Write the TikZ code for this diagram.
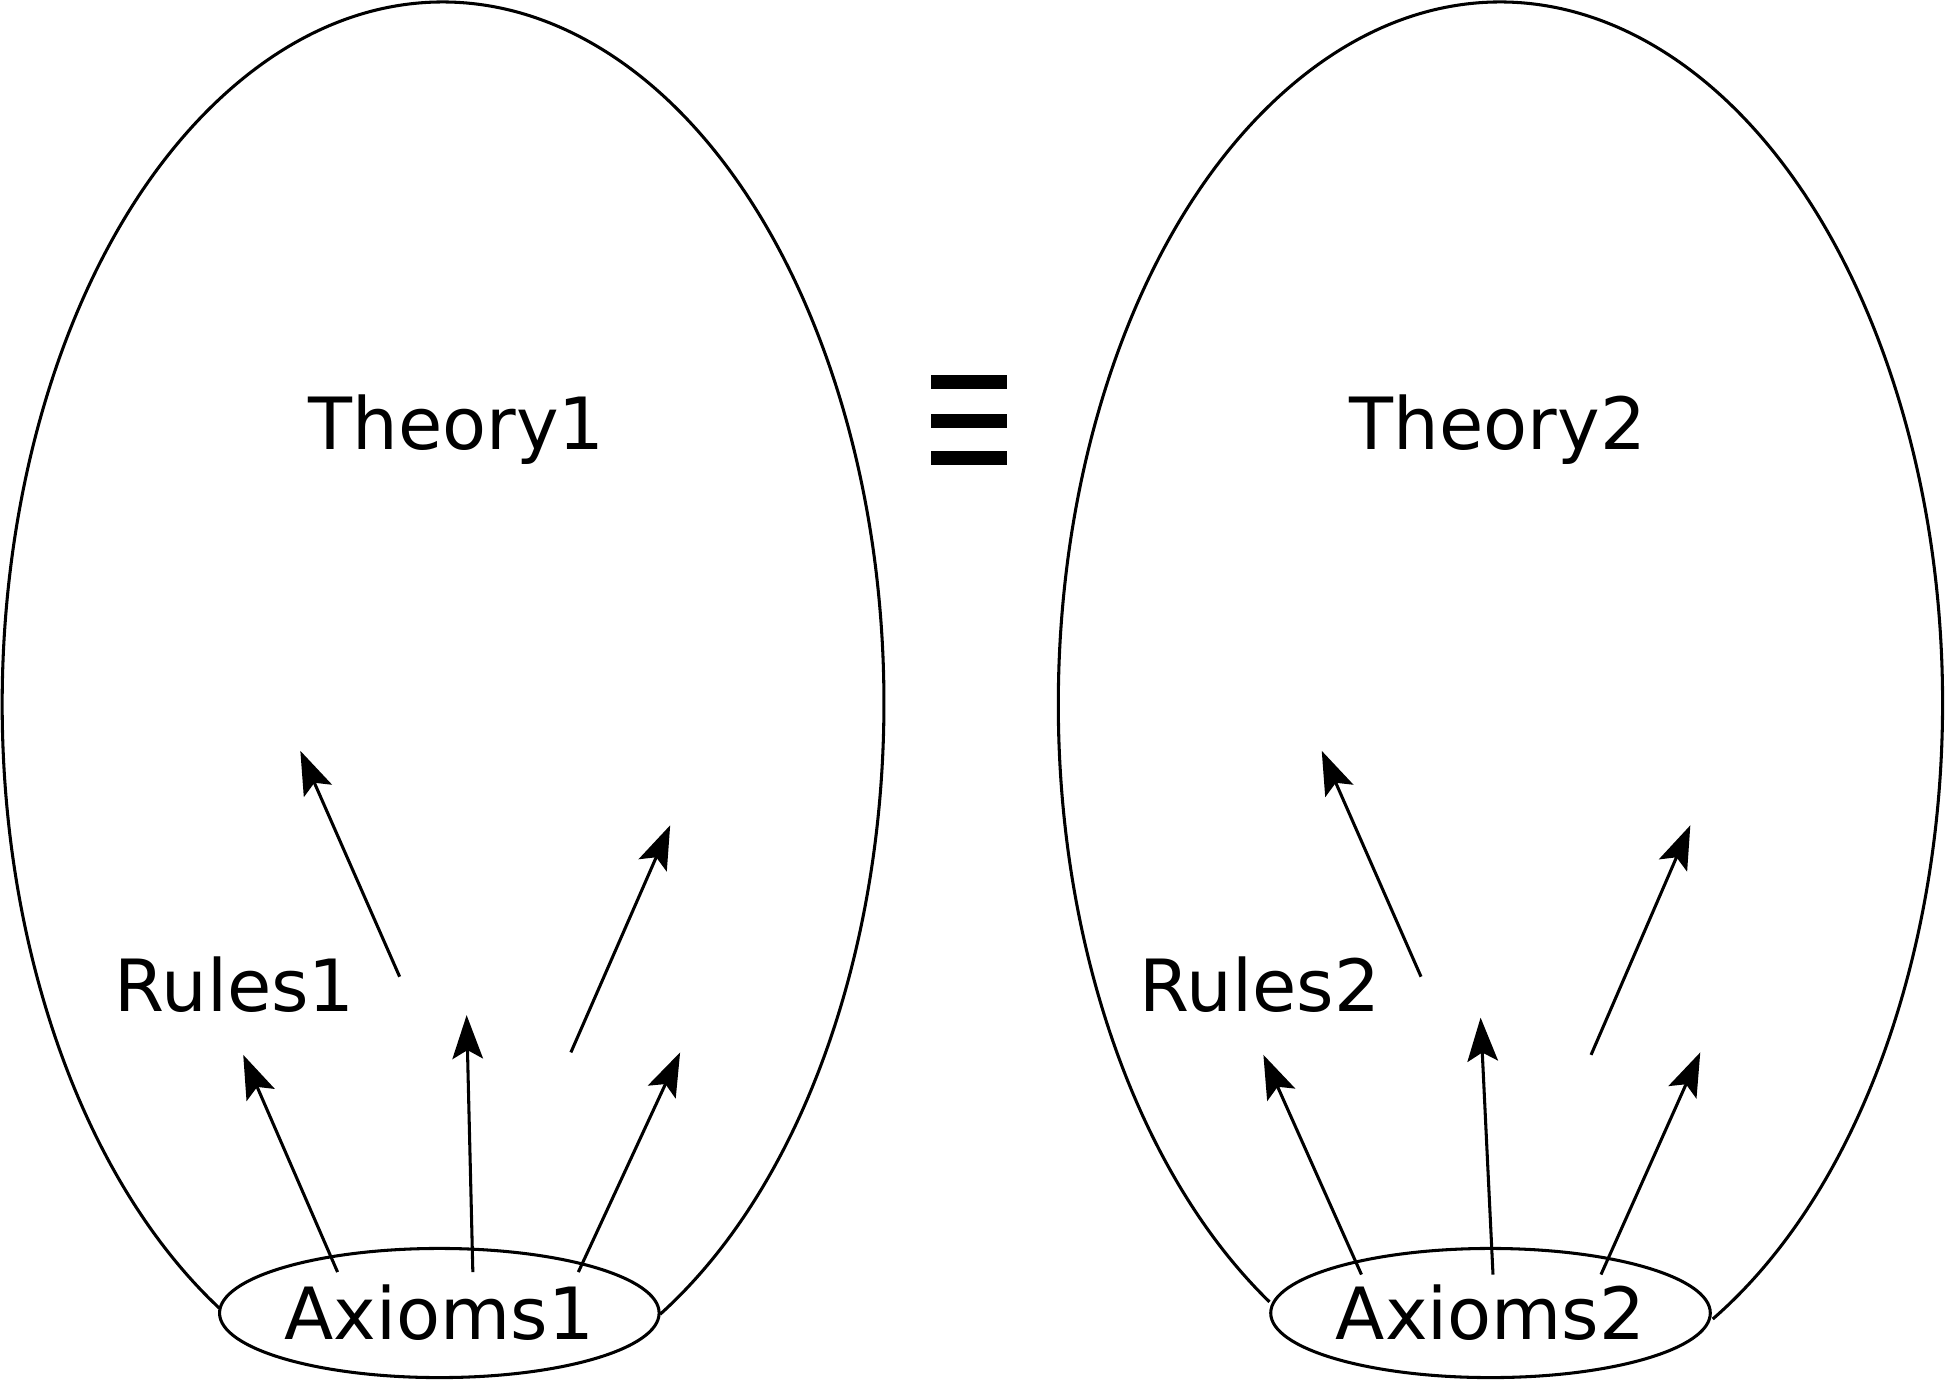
\documentclass[tikz,border=0pt]{standalone}
\usepackage{fontspec}
\setmainfont{DejaVu Sans}
\usetikzlibrary{arrows.meta}
\usetikzlibrary{shapes}

\begin{document}
\begin{tikzpicture}[x = 0.01cm, y = 0.01cm, font = \fontsize{16.5}{20}\selectfont, line width = 0.7pt]
	\tikzstyle{axiomStyle}=[shape = ellipse, draw, minimum width = 3.54cm, minimum height = 1.04cm, inner sep = 0pt]
	\tikzstyle{labelStyle}=[anchor = base, inner sep = 0pt]
	\tikzstyle{arrowStyle}=[-{Stealth[length = 10pt, width = 7pt, inset = 2pt]}]
	\useasboundingbox (0,0) rectangle (1568,1122);
	% the two theories
	\draw (357,555) ++(-60.5:3.55cm and 5.65cm) arc[start angle = -60.5, end angle = 239.5, x radius = 3.55cm, y radius = 5.65cm];
	\draw (1209,555) ++(-61.3:3.56cm and 5.65cm) arc[start angle = -61.3, end angle = 238.5, x radius = 3.56cm, y radius = 5.65cm];
	\node[labelStyle] (theory1) at (368,760) {Theory1};
	\node[labelStyle] (rules1) at (189,307) {Rules1};
	\node[axiomStyle] (axioms1) at (354,64) {Axioms1};
	\node[labelStyle] (theory2) at (1207,760) {Theory2};
	\node[labelStyle] (rules2) at (1015,307) {Rules2};
	\node[axiomStyle] (axioms2) at (1201,64) {Axioms2};
	% equivalence sign
	\foreach \y in {753, 783, 814}
		\fill (750,\y-5.5) rectangle (811,\y+5.5);
	% derivations, left
	\coordinate (s11) at (272,97);
	\coordinate (s12) at (381,97);
	\coordinate (s13) at (466,97);
	\coordinate (s14) at (322,335);
	\coordinate (s15) at (460,274);
	\coordinate (t11) at (196,272);
	\coordinate (t12) at (376,304);
	\coordinate (t13) at (548,274);
	\coordinate (t14) at (242,517);
	\coordinate (t15) at (540,457);
	\draw[arrowStyle] (s11) -- (t11);
	\draw[arrowStyle] (s12) -- (t12);
	\draw[arrowStyle] (s13) -- (t13);
	\draw[arrowStyle] (s14) -- (t14);
	\draw[arrowStyle] (s15) -- (t15);
	% derivations, right
	\coordinate (s21) at (1097,95);
	\coordinate (s22) at (1203,95);
	\coordinate (s23) at (1290,95);
	\coordinate (s24) at (1145,335);
	\coordinate (s25) at (1282,272);
	\coordinate (t21) at (1018,272);
	\coordinate (t22) at (1193,302);
	\coordinate (t23) at (1370,274);
	\coordinate (t24) at (1065,517);
	\coordinate (t25) at (1362,457);
	\draw[arrowStyle] (s21) -- (t21);
	\draw[arrowStyle] (s22) -- (t22);
	\draw[arrowStyle] (s23) -- (t23);
	\draw[arrowStyle] (s24) -- (t24);
	\draw[arrowStyle] (s25) -- (t25);
\end{tikzpicture}
\end{document}
